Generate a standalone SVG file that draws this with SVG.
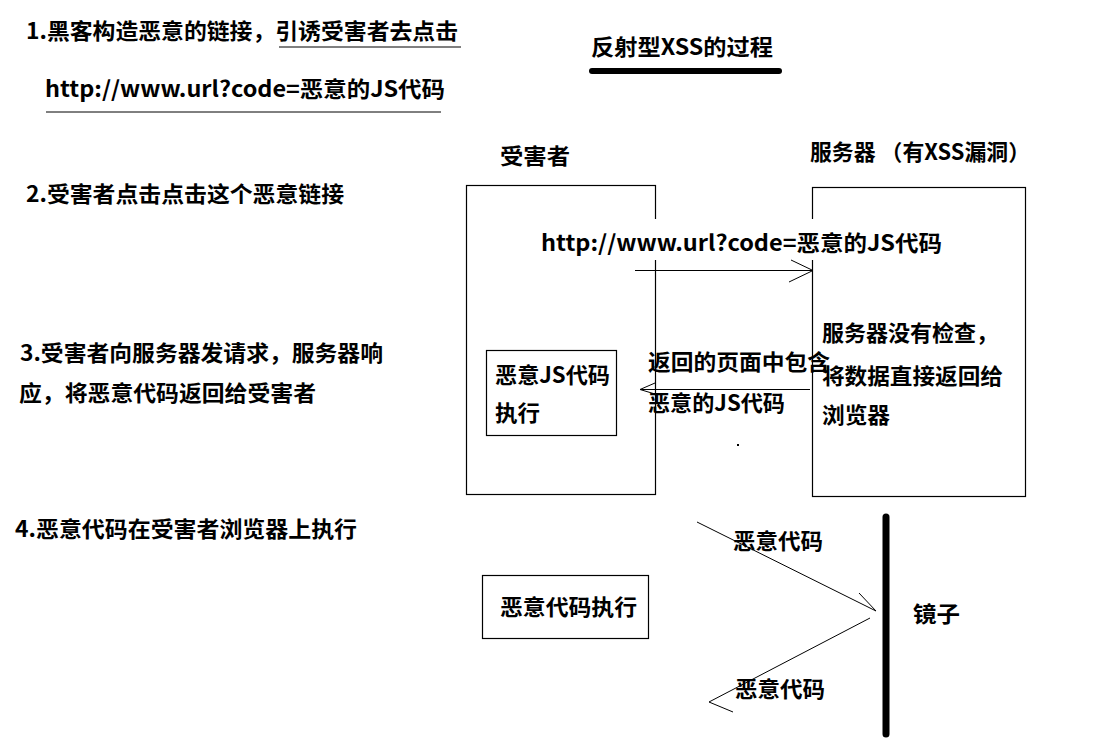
<svg xmlns="http://www.w3.org/2000/svg" width="1108" height="746" viewBox="0 0 1108 746">
<style>
text{font-family:"Noto Sans CJK SC","Noto Sans",sans-serif;font-weight:bold;font-size:22px;fill:#000}
.box{fill:none;stroke:#000;stroke-width:1.2}
.ln{fill:none;stroke:#000;stroke-width:1}
</style>
<rect width="1108" height="746" fill="#fff"/>
<g id="title">
<text x="591" y="55" textLength="182" lengthAdjust="spacingAndGlyphs">反射型XSS的过程</text>
<line x1="592" y1="71" x2="779" y2="71" stroke="#000" stroke-width="6" stroke-linecap="round"/>
</g>
<g id="step1">
<text x="26" y="39" textLength="432" lengthAdjust="spacingAndGlyphs">1.黑客构造恶意的链接，引诱受害者去点击</text>
<line class="ln" x1="279" y1="47" x2="461" y2="47"/>
<text x="45" y="97" textLength="400" lengthAdjust="spacingAndGlyphs">http://www.url?code=恶意的JS代码</text>
<line class="ln" x1="46" y1="112" x2="441" y2="112"/>
</g>
<g id="step2"><text x="26" y="202" textLength="318" lengthAdjust="spacingAndGlyphs">2.受害者点击点击这个恶意链接</text></g>
<g id="step3">
<text x="20" y="361" textLength="363" lengthAdjust="spacingAndGlyphs">3.受害者向服务器发请求，服务器响</text>
<text x="19" y="401" textLength="297" lengthAdjust="spacingAndGlyphs">应，将恶意代码返回给受害者</text>
</g>
<g id="step4"><text x="15" y="537" textLength="342" lengthAdjust="spacingAndGlyphs">4.恶意代码在受害者浏览器上执行</text></g>
<g id="victim">
<text x="500" y="164" textLength="70" lengthAdjust="spacingAndGlyphs">受害者</text>
<rect class="box" x="466.5" y="185.5" width="189" height="309"/>
</g>
<g id="server">
<text x="810" y="160" textLength="220" lengthAdjust="spacingAndGlyphs">服务器 （有XSS漏洞）</text>
<rect class="box" x="812.5" y="187.5" width="213" height="309"/>
<text x="822" y="341" textLength="176" lengthAdjust="spacingAndGlyphs">服务器没有检查，</text>
<text x="822" y="384" textLength="181" lengthAdjust="spacingAndGlyphs">将数据直接返回给</text>
<text x="822" y="423" textLength="68" lengthAdjust="spacingAndGlyphs">浏览器</text>
</g>
<g id="exec-js">
<rect class="box" x="486.5" y="350.5" width="130" height="85"/>
<text x="495" y="383" textLength="115" lengthAdjust="spacingAndGlyphs">恶意JS代码</text>
<text x="495" y="421" textLength="45" lengthAdjust="spacingAndGlyphs">执行</text>
</g>
<g id="exec-code">
<rect class="box" x="482.5" y="575.5" width="166" height="63"/>
<text x="500" y="615" textLength="137" lengthAdjust="spacingAndGlyphs">恶意代码执行</text>
</g>
<g id="mirror">
<line x1="886" y1="517" x2="886" y2="734" stroke="#000" stroke-width="7" stroke-linecap="round"/>
<text x="913" y="622" textLength="47" lengthAdjust="spacingAndGlyphs">镜子</text>
</g>
<g id="connectors">
<rect x="538" y="219" width="410" height="41" fill="#fff"/>
<text x="541" y="251" textLength="401" lengthAdjust="spacingAndGlyphs">http://www.url?code=恶意的JS代码</text>
<line class="ln" x1="635" y1="270.5" x2="813" y2="270.5"/>
<polyline class="ln" points="791,260 813,270.5 789,282"/>
<line class="ln" x1="810" y1="389.5" x2="640" y2="389.5"/>
<polyline class="ln" points="655,383 640,389.5 655,394"/>
<text x="648" y="370" textLength="182" lengthAdjust="spacingAndGlyphs">返回的页面中包含</text>
<text x="648" y="411" textLength="137" lengthAdjust="spacingAndGlyphs">恶意的JS代码</text>
<rect x="737" y="444" width="2" height="2" fill="#000"/>
<line class="ln" x1="697" y1="522" x2="876" y2="611"/>
<line class="ln" x1="859" y1="593" x2="876" y2="611"/>
<line class="ln" x1="870" y1="618" x2="709" y2="702"/>
<line class="ln" x1="709" y1="702" x2="733" y2="712"/>
<text x="733" y="549" textLength="90" lengthAdjust="spacingAndGlyphs">恶意代码</text>
<text x="735" y="697" textLength="90" lengthAdjust="spacingAndGlyphs">恶意代码</text>
</g>
</svg>
